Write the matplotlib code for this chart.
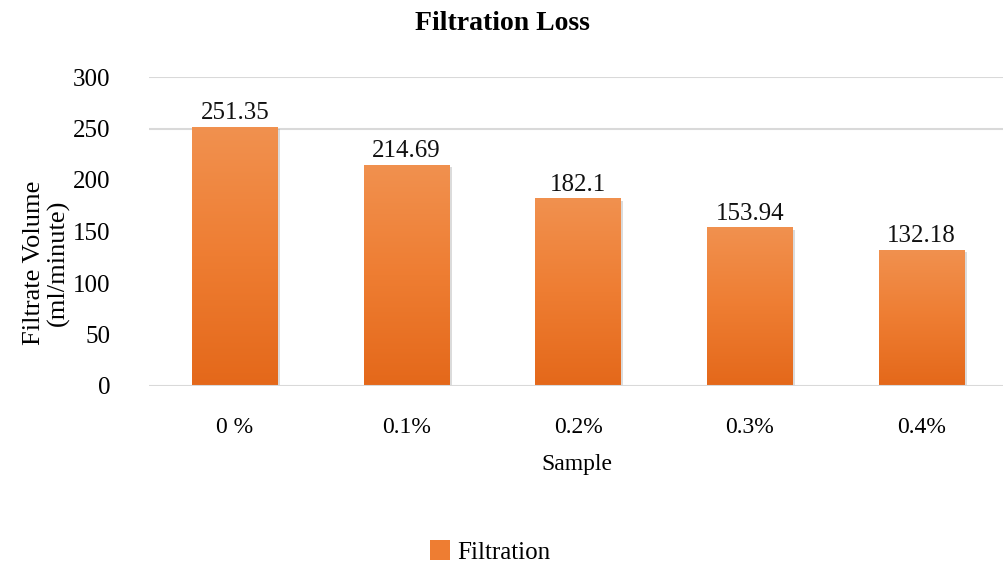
import matplotlib
matplotlib.use("Agg")
import matplotlib.pyplot as plt
import numpy as np
from matplotlib.colors import LinearSegmentedColormap
from matplotlib.patches import Patch
import matplotlib.patheffects as pe

categories = ["0 %", "0.1%", "0.2%", "0.3%", "0.4%"]
values = [251.35, 214.69, 182.1, 153.94, 132.18]
value_labels = ["251.35", "214.69", "182.1", "153.94", "132.18"]
yticks = [0, 50, 100, 150, 200, 250, 300]
gridlines = [250, 300]

plt.rcParams['font.family'] = ['Liberation Serif', 'DejaVu Serif']

fig = plt.figure(figsize=(10.04, 5.67), dpi=100)
ax = fig.add_axes([149/1004, 1-386/567, (1004-149)/1004, (386-77)/567])

x = np.arange(len(categories))
bars = ax.bar(x, values, width=0.5, color="#EE7D32", zorder=2,
              path_effects=[pe.SimplePatchShadow(offset=(1.5, -1.5), shadow_rgbFace="#999999", alpha=0.35), pe.Normal()])

cmap = LinearSegmentedColormap.from_list("og", ["#E4681A", "#EE7D32", "#F1914F"])
grad = np.linspace(0, 1, 256).reshape(-1, 1)
for b in bars:
    x0, y0 = b.get_x(), b.get_y()
    w, h = b.get_width(), b.get_height()
    im = ax.imshow(grad, cmap=cmap, origin="lower", aspect="auto",
                   extent=[x0, x0 + w, y0, y0 + h], zorder=3)
    im.set_clip_path(b)

for xi, v, lab in zip(x, values, value_labels):
    ax.annotate(lab, (xi, v), xytext=(0, 2), textcoords="offset points",
                ha="center", va="bottom", fontsize=18, color="#111111", zorder=5)

for g in gridlines:
    ax.axhline(g, color="#D9D9D9", lw=1.5, zorder=1)
ax.axhline(0, color="#D9D9D9", lw=1.5, zorder=4)

ax.set_xlim(-0.5, 4.48)
ax.set_ylim(0, 300)
ax.set_yticks(yticks)
ax.set_yticklabels([str(t) for t in yticks], fontsize=18)
ax.set_xticks(x)
ax.set_xticklabels(categories, fontsize=17)
ax.tick_params(axis="y", length=0, pad=28)
ax.tick_params(axis="x", length=0, pad=22)
for s in ax.spines.values():
    s.set_visible(False)

ax.set_xlabel("Sample", fontsize=17, labelpad=12)
ax.set_ylabel("Filtrate Volume\n(ml/minute)", fontsize=19, linespacing=1.15)
ax.yaxis.set_label_coords(-0.092, 0.40)

fig.suptitle("Filtration Loss", fontsize=20, fontweight="bold", y=1 - 24/567, va="center")

leg = fig.legend(handles=[Patch(facecolor="#EE7D32", label="Filtration")],
                 loc="center", bbox_to_anchor=(490/1004, 1 - 552/567), frameon=False,
                 prop={"family": "Liberation Serif", "size": 18},
                 handlelength=0.8, handleheight=0.8, handletextpad=0.3)

fig.savefig("out.png", dpi=100)
